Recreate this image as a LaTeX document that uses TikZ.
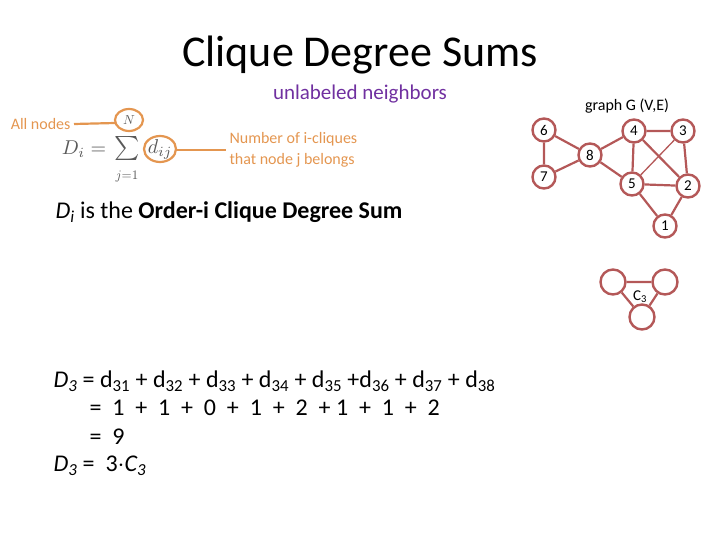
\documentclass[tikz,border=0pt]{standalone}
\usepackage{fontspec}
\setmainfont{Carlito}
\newcommand{\sbx}[1]{\textsubscript{#1}}
\begin{document}
\begin{tikzpicture}[x=1pt,y=-1pt,
  gn/.style={circle,draw=edgec,line width=2.4pt,fill=white,minimum size=23pt,inner sep=0pt,font=\fontsize{15}{15}\selectfont},
  cn/.style={circle,draw=edgec,line width=2.4pt,fill=white,minimum size=25pt,inner sep=0pt},
  ge/.style={draw=edgec,line width=2.2pt},
  orl/.style={draw=orc,line width=2.2pt},
  ort/.style={text=orc,font=\fontsize{16}{21}\selectfont,align=left},
  fm/.style={text=black!65,inner sep=0pt},
  eqt/.style={anchor=west,font=\fontsize{24}{26}\selectfont}]
\definecolor{edgec}{RGB}{180,88,88}
\definecolor{orc}{RGB}{228,150,80}
\definecolor{purp}{RGB}{112,48,160}
\useasboundingbox (0,0) rectangle (720,540);
\node (title) at (360,55) {\fontsize{44}{48}\selectfont Clique Degree Sums};
\node[text=purp,font=\fontsize{21}{24}\selectfont] (unl) at (360,94) {unlabeled neighbors};
% formula
\node[fm] (form) at (84,149) {\scalebox{2}{$D_i=$}};
\node[fm] (sig) at (127,149) {\scalebox{2.4}{$\sum$}};
\node[fm] (jj) at (127,176) {\scalebox{1.3}{$j{=}1$}};
\node[fm] (dd) at (160,149) {\scalebox{2}{$d_{ij}$}};
\node[fm] (N) at (129,120) {\scalebox{1.3}{$N$}};
\draw[orl] (N) ellipse (14pt and 11pt);
\draw[orl] (dd) ellipse (16pt and 13pt);
\node[ort,anchor=east] (alln) at (74,124) {All nodes};
\draw[orl] (alln.east) -- (115,123);
\node[ort,anchor=west] (numi) at (226,150) {Number of i-cliques\\that node j belongs};
\draw[orl] (176,150) -- (numi.west);
\node[anchor=west,font=\fontsize{24}{26}\selectfont] (di) at (52,212) {\textit{D}\sbx{\textit{i}} is the \textbf{Order-i Clique Degree Sum}};
% graph
\node[font=\fontsize{16}{17}\selectfont] (gt) at (627,106) {graph G (V,E)};
\node[gn] (n6) at (544,130) {6};
\node[gn] (n7) at (544,177) {7};
\node[gn] (n8) at (590,155) {8};
\node[gn] (n4) at (634,131) {4};
\node[gn] (n3) at (683,131) {3};
\node[gn] (n5) at (632,184) {5};
\node[gn] (n2) at (688,186) {2};
\node[gn] (n1) at (665,226) {1};
\draw[ge] (n6)--(n7) (n6)--(n8) (n7)--(n8) (n8)--(n4) (n8)--(n5) (n4)--(n3) (n4)--(n5) (n4)--(n2) (n3)--(n2) (n5)--(n2) (n5)--(n1) (n2)--(n1);
\draw[draw=edgec,line width=1.3pt] (n3)--(n5);
\node[cn] (ca) at (613,282) {};
\node[cn] (cb) at (665,282) {};
\node[cn] (cc) at (642,317) {};
\draw[ge] (ca)--(cb) (cb)--(cc) (cc)--(ca);
\node[font=\fontsize{15}{15}\selectfont] (c3) at (640,297) {C\sbx{3}};
% equations
\node[eqt] (l1) at (50,381) {\textit{D\sbx{3}} = d\sbx{31} + d\sbx{32} + d\sbx{33} + d\sbx{34} + d\sbx{35} +d\sbx{36} + d\sbx{37} + d\sbx{38}};
\node[eqt] (l2) at (86,408) {= \ 1 \ + \ 1 \ + \ 0 \ + \ 1 \ + \ 2 \ + 1 \ + \ 1 \ + \ 2};
\node[eqt] (l3) at (86,437) {= \ 9};
\node[eqt] (l4) at (50,466) {\textit{D\sbx{3}} = \ 3$\cdot$\textit{C\sbx{3}}};
\end{tikzpicture}
\end{document}
